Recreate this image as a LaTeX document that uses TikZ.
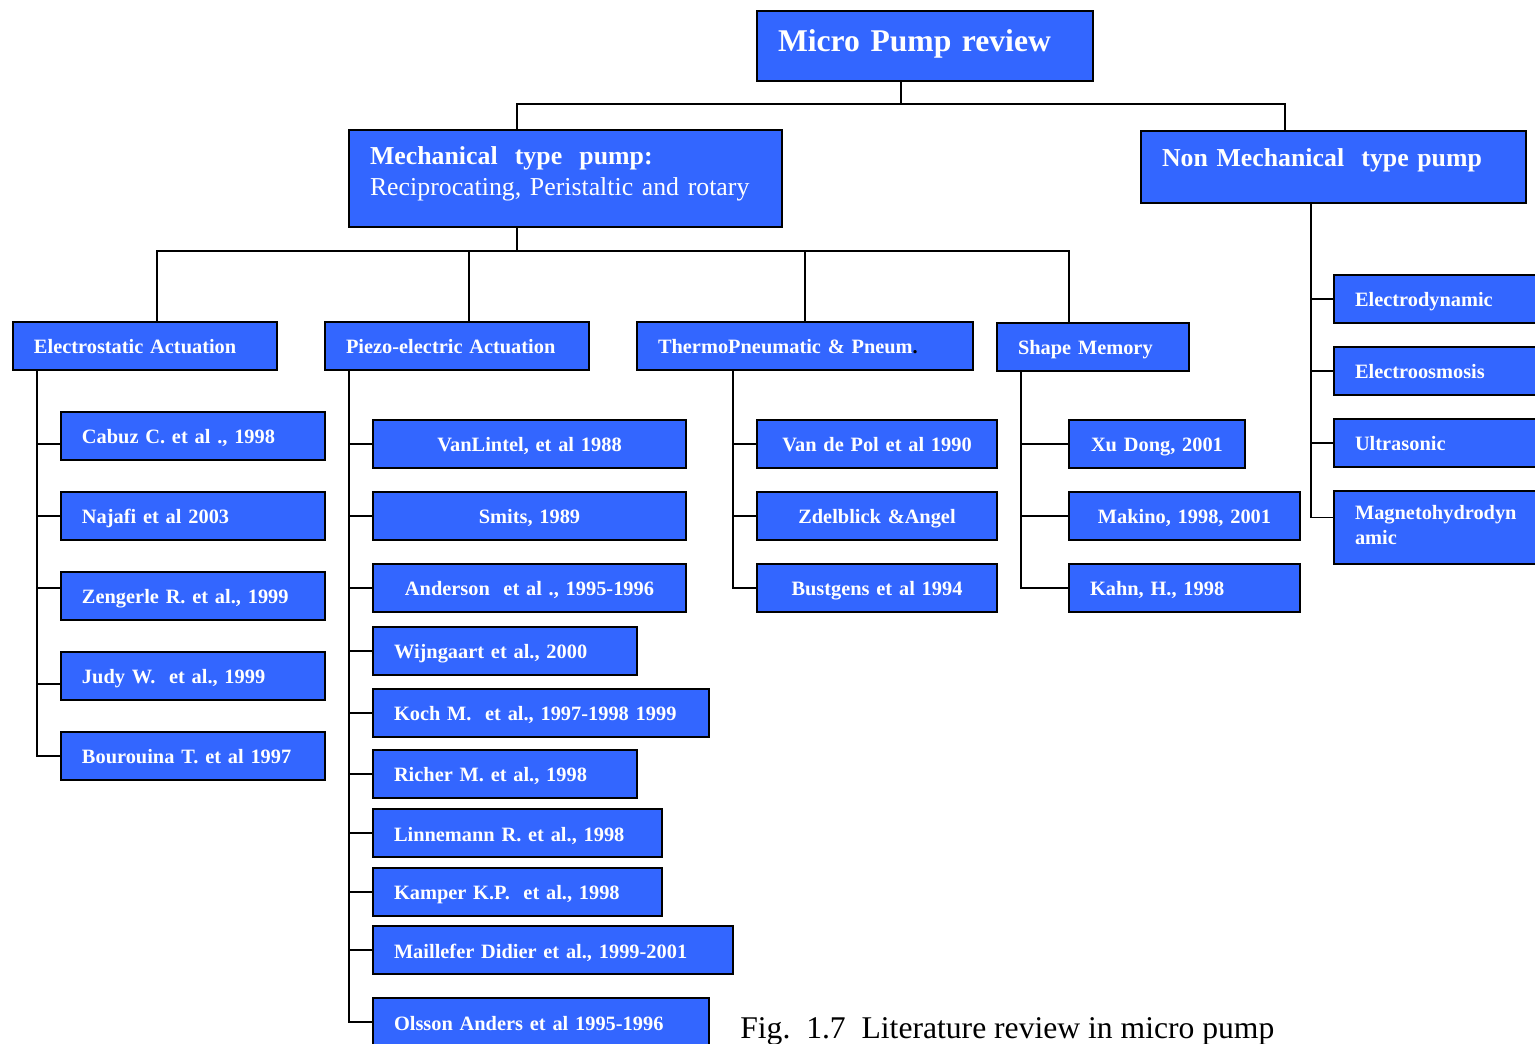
\documentclass[tikz,border=0pt]{standalone}
\usepackage{fontspec}
\setmainfont{Liberation Serif}
\definecolor{pumpblue}{HTML}{3366FF}

\tikzset{
  card/.style={draw=black, line width=1.1pt, fill=pumpblue, text=white,
    anchor=north west, inner xsep=0.42cm, inner ysep=0pt, outer sep=0pt,
    text height=0.64cm, text depth=0.32cm, align=left,
    font=\bfseries\fontsize{11.6}{14}\selectfont},
  wd/.style={text width={(#1-42)*0.02cm}},
  link/.style={draw=black, line width=1.1pt}
}

\begin{document}
\begin{tikzpicture}[x=0.02cm, y=-0.02cm]
    \useasboundingbox (0,0) rectangle (1535,1044);

    % top levels
    \node[card, wd=336, font=\bfseries\fontsize{18}{21}\selectfont,
      text height=0.82cm, text depth=0.58cm] (root) at (757,11) {Micro Pump review};
    \node[card, wd=433, font=\bfseries\fontsize{14.7}{17.6}\selectfont,
      text height=0.7cm, text depth=1.24cm] (mech) at (349,130)
      {Mechanical\ \ type\ \ pump:\\{\mdseries Reciprocating, Peristaltic and rotary}};
    \node[card, wd=385, font=\bfseries\fontsize{14.7}{18}\selectfont,
      text height=0.72cm, text depth=0.72cm] (nonmech) at (1141,131) {Non Mechanical\ \ type pump};

    \node[card, wd=264] (es) at (13,322) {Electrostatic Actuation};
    \node[card, wd=264] (pz) at (325,322) {Piezo-electric Actuation};
    \node[card, wd=336] (tp) at (637,322) {ThermoPneumatic \& Pneum\textcolor{black}{.}};
    \node[card, wd=192] (sm) at (997,323) {Shape Memory};

    % electrostatic
    \node[card, wd=264] (cabuz) at (61,412) {Cabuz C. et al ., 1998};
    \node[card, wd=264] (najafi) at (61,492) {Najafi et al 2003};
    \node[card, wd=264] (zengerle) at (61,572) {Zengerle R. et al., 1999};
    \node[card, wd=264] (judy) at (61,652) {Judy W.\ \ et al., 1999};
    \node[card, wd=264] (bourouina) at (61,732) {Bourouina T. et al 1997};

    % piezo-electric
    \node[card, wd=313, align=center] (vl) at (373,420) {VanLintel, et al 1988};
    \node[card, wd=313, align=center] (smits) at (373,492) {Smits, 1989};
    \node[card, wd=313, align=center] (anderson) at (373,564) {Anderson\ \ et al ., 1995-1996};
    \node[card, wd=264] (wijn) at (373,627) {Wijngaart et al., 2000};
    \node[card, wd=336] (koch) at (373,689) {Koch M.\ \ et al., 1997-1998 1999};
    \node[card, wd=264] (richer) at (373,750) {Richer M. et al., 1998};
    \node[card, wd=289] (linne) at (373,809) {Linnemann R. et al., 1998};
    \node[card, wd=289] (kamper) at (373,868) {Kamper K.P.\ \ et al., 1998};
    \node[card, wd=360] (maille) at (373,926) {Maillefer Didier et al., 1999-2001};
    \node[card, wd=336] (olsson) at (373,998) {Olsson Anders et al 1995-1996};

    % thermopneumatic
    \node[card, wd=240, align=center] (vdp) at (757,420) {Van de Pol et al 1990};
    \node[card, wd=240, align=center] (zdel) at (757,492) {Zdelblick \&Angel};
    \node[card, wd=240, align=center] (bust) at (757,564) {Bustgens et al 1994};

    % shape memory
    \node[card, align=center, inner xsep=0.1cm, text width=3.32cm] (xu) at (1069,420) {Xu Dong, 2001};
    \node[card, wd=231, align=center] (mak) at (1069,492) {Makino, 1998, 2001};
    \node[card, wd=231] (kahn) at (1069,564) {Kahn, H., 1998};

    % non mechanical
    \node[card, wd=240] (ed) at (1334,275) {Electrodynamic};
    \node[card, wd=240] (eo) at (1334,347) {Electroosmosis};
    \node[card, wd=240] (us) at (1334,419) {Ultrasonic};
    \node[card, wd=240, font=\bfseries\fontsize{11.6}{14.2}\selectfont,
      text height=0.58cm, text depth=0.88cm] (mhd) at (1334,491) {Magnetohydrodyn\\amic};

    \node[anchor=base west, inner sep=0pt, font=\fontsize{18}{21}\selectfont] (caption)
      at (740,1038) {Fig.\ \ 1.7\ \ Literature review in micro pump};

    % connectors
    \coordinate (hub) at (901,104);
    \coordinate (hub2) at (517,251);
    \draw[link] (root.south -| hub) -- (hub) -| (mech.north -| hub2);
    \draw[link] (hub) -| (nonmech.north -| 1285,0);
    \draw[link] (mech.south -| hub2) -- (hub2);
    \draw[link] (es.north -| 157,0) |- (hub2) -| (sm.north -| 1069,0);
    \draw[link] (pz.north -| 469,0) -- (hub2 -| 469,0);
    \draw[link] (tp.north -| 805,0) -- (hub2 -| 805,0);

    \foreach \n/\dy in {cabuz/-0.16cm, najafi/0cm, zengerle/0.16cm, judy/-0.16cm, bourouina/0cm}
        \draw[link] (es.south -| 37,0) |- ([yshift=\dy]\n.west);
    \foreach \n in {vl,smits,anderson,wijn,koch,richer,linne,kamper,maille,olsson}
        \draw[link] (pz.south -| 349,0) |- (\n.west);
    \foreach \n in {vdp,zdel,bust}
        \draw[link] (tp.south -| 733,0) |- (\n.west);
    \foreach \n in {xu,mak,kahn}
        \draw[link] (sm.south -| 1021,0) |- (\n.west);
    \foreach \n/\dy in {ed/0cm, eo/0cm, us/0cm, mhd/0.2cm}
        \draw[link] (nonmech.south -| 1311,0) |- ([yshift=\dy]\n.west);
\end{tikzpicture}
\end{document}
